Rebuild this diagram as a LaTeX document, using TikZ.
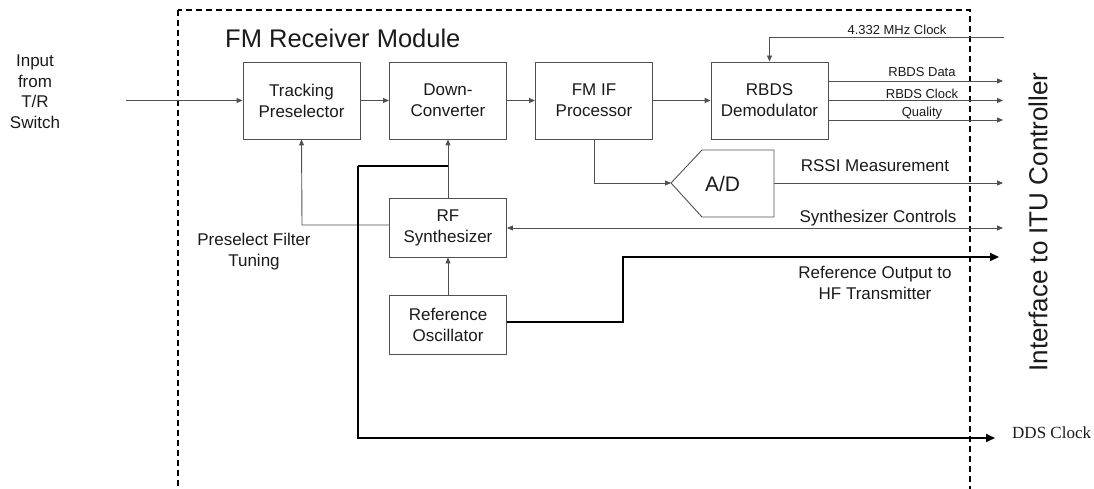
\documentclass[tikz,border=0pt]{standalone}
\usepackage{fontspec}
\setmainfont{Liberation Sans}
\newfontfamily\timesfont{Liberation Serif}
\usetikzlibrary{arrows.meta}
\definecolor{boxgray}{HTML}{505050}
\definecolor{txt}{HTML}{1A1A1A}
\begin{document}
\begin{tikzpicture}[x=1pt,y=-1pt,
  blk/.style={draw=boxgray, line width=0.9pt, minimum width=117pt, minimum height=77pt,
    inner sep=0pt, align=center, font=\fontsize{17}{21}\selectfont, text=txt},
  lbl/.style={inner sep=0pt, align=center, font=\fontsize{17}{21}\selectfont, text=txt},
  small/.style={inner sep=0pt, font=\fontsize{13}{15}\selectfont, text=txt},
  wire/.style={draw=boxgray, line width=0.9pt},
  sig/.style={wire, -{Triangle[length=6pt,width=5pt]}},
  bus/.style={draw=black, line width=1.6pt},
  bussig/.style={bus, -{Triangle[length=9pt,width=8pt]}}
]
\clip (0,0) rectangle (1094,489);

% module outline
\draw[line width=2pt, dash pattern=on 6pt off 4pt] (178,10) rectangle (970,500);
\node[anchor=base west, inner sep=0pt, font=\fontsize{25.5}{29}\selectfont, text=txt] (title) at (225,48) {FM Receiver Module};

% signal chain blocks
\node[blk] (pre)  at (301.5,100.5) {Tracking\\Preselector};
\node[blk] (dc)   at (448,100.5)   {Down-\\Converter};
\node[blk] (fmif) at (594,100.5)   {FM IF\\Processor};
\node[blk] (rbds) at (769.5,100.5) {RBDS\\Demodulator};
\node[blk, minimum height=59pt] (rfs) at (448,227.5) {RF\\Synthesizer};
\node[blk, minimum height=59pt] (osc) at (448,324.5) {Reference\\Oscillator};

% A/D converter outline
\coordinate (adtip) at (671,183);
\coordinate (adout) at (774,183);
\draw[draw=boxgray, line width=0.9pt] (adtip) -- (702,150) -- (774,150) -- (774,217) -- (702,217) -- cycle;
\node[inner sep=0pt, font=\fontsize{21}{24}\selectfont, text=txt] (ad) at (722.5,184) {A/D};

% input
\node[lbl, align=center, font=\fontsize{17}{20.5}\selectfont] (inp) at (35,91.5) {Input\\from\\T/R\\Switch};
\coordinate (inpend) at (126,100.5);
\draw[sig] (inpend) -- (pre.west);

% main chain
\draw[sig] (pre) -- (dc);
\draw[sig] (dc) -- (fmif);
\draw[sig] (fmif) -- (rbds);

% RBDS clock in and outputs
\coordinate (clkin) at (1004,37);
\draw[sig] (clkin) -| (rbds.north);
\node[small] (clklbl) at (897,30) {4.332 MHz Clock};

\coordinate (rdata) at (1003,81);
\coordinate (rclk) at (1003,100.5);
\coordinate (rqual) at (1003,120);
\draw[sig] (rbds.east |- rdata) -- (rdata);
\draw[sig] (rbds.east |- rclk) -- (rclk);
\draw[sig] (rbds.east |- rqual) -- (rqual);
\node[small] (rdlbl) at (922,72) {RBDS Data};
\node[small] (rclbl) at (922,94) {RBDS Clock};
\node[small] (rqlbl) at (922,113) {Quality};

% RSSI path
\draw[sig] (fmif.south) |- (adtip);
\coordinate (rssi) at (1003,183);
\draw[sig] (adout) -- (rssi);
\node[lbl] (rssilbl) at (875,166) {RSSI Measurement};

% synthesizer controls
\coordinate (sync) at (1003,228);
\draw[wire, {Triangle[length=6pt,width=5pt]}-{Triangle[length=6pt,width=5pt]}] (rfs.east |- sync) -- (sync);
\node[lbl] (synclbl) at (878,218) {Synthesizer Controls};

% synthesizer connections
\draw[sig] (osc.north) -- (rfs.south);
\draw[sig] (rfs.north) -- (dc.south);
\coordinate (tune) at (302,225);
\draw[sig] (rfs.west |- tune) -- (tune) -- (pre.south);
\node[lbl] (tunelbl) at (254,252) {Preselect Filter\\Tuning};

% reference output
\coordinate (refbend) at (623,322);
\coordinate (refout) at (999,257);
\draw[bussig] (osc.east |- refbend) -- (refbend) |- (refout);
\node[lbl] (reflbl) at (875,283) {Reference Output to\\HF Transmitter};

% DDS clock
\coordinate (ddstap) at (448,166);
\coordinate (ddscorner) at (358,166);
\coordinate (ddsout) at (995,438);
\draw[bus] (ddstap) -- (ddscorner);
\draw[bussig] (ddscorner) |- (ddsout);
\node[anchor=west, inner sep=0pt, font=\timesfont\fontsize{17}{20}\selectfont, text=txt] (ddslbl) at (1012,433) {DDS Clock};

% controller interface
\node[rotate=90, inner sep=0pt, font=\fontsize{26}{30}\selectfont, text=txt] (itu) at (1038,222) {Interface to ITU Controller};
\end{tikzpicture}
\end{document}
